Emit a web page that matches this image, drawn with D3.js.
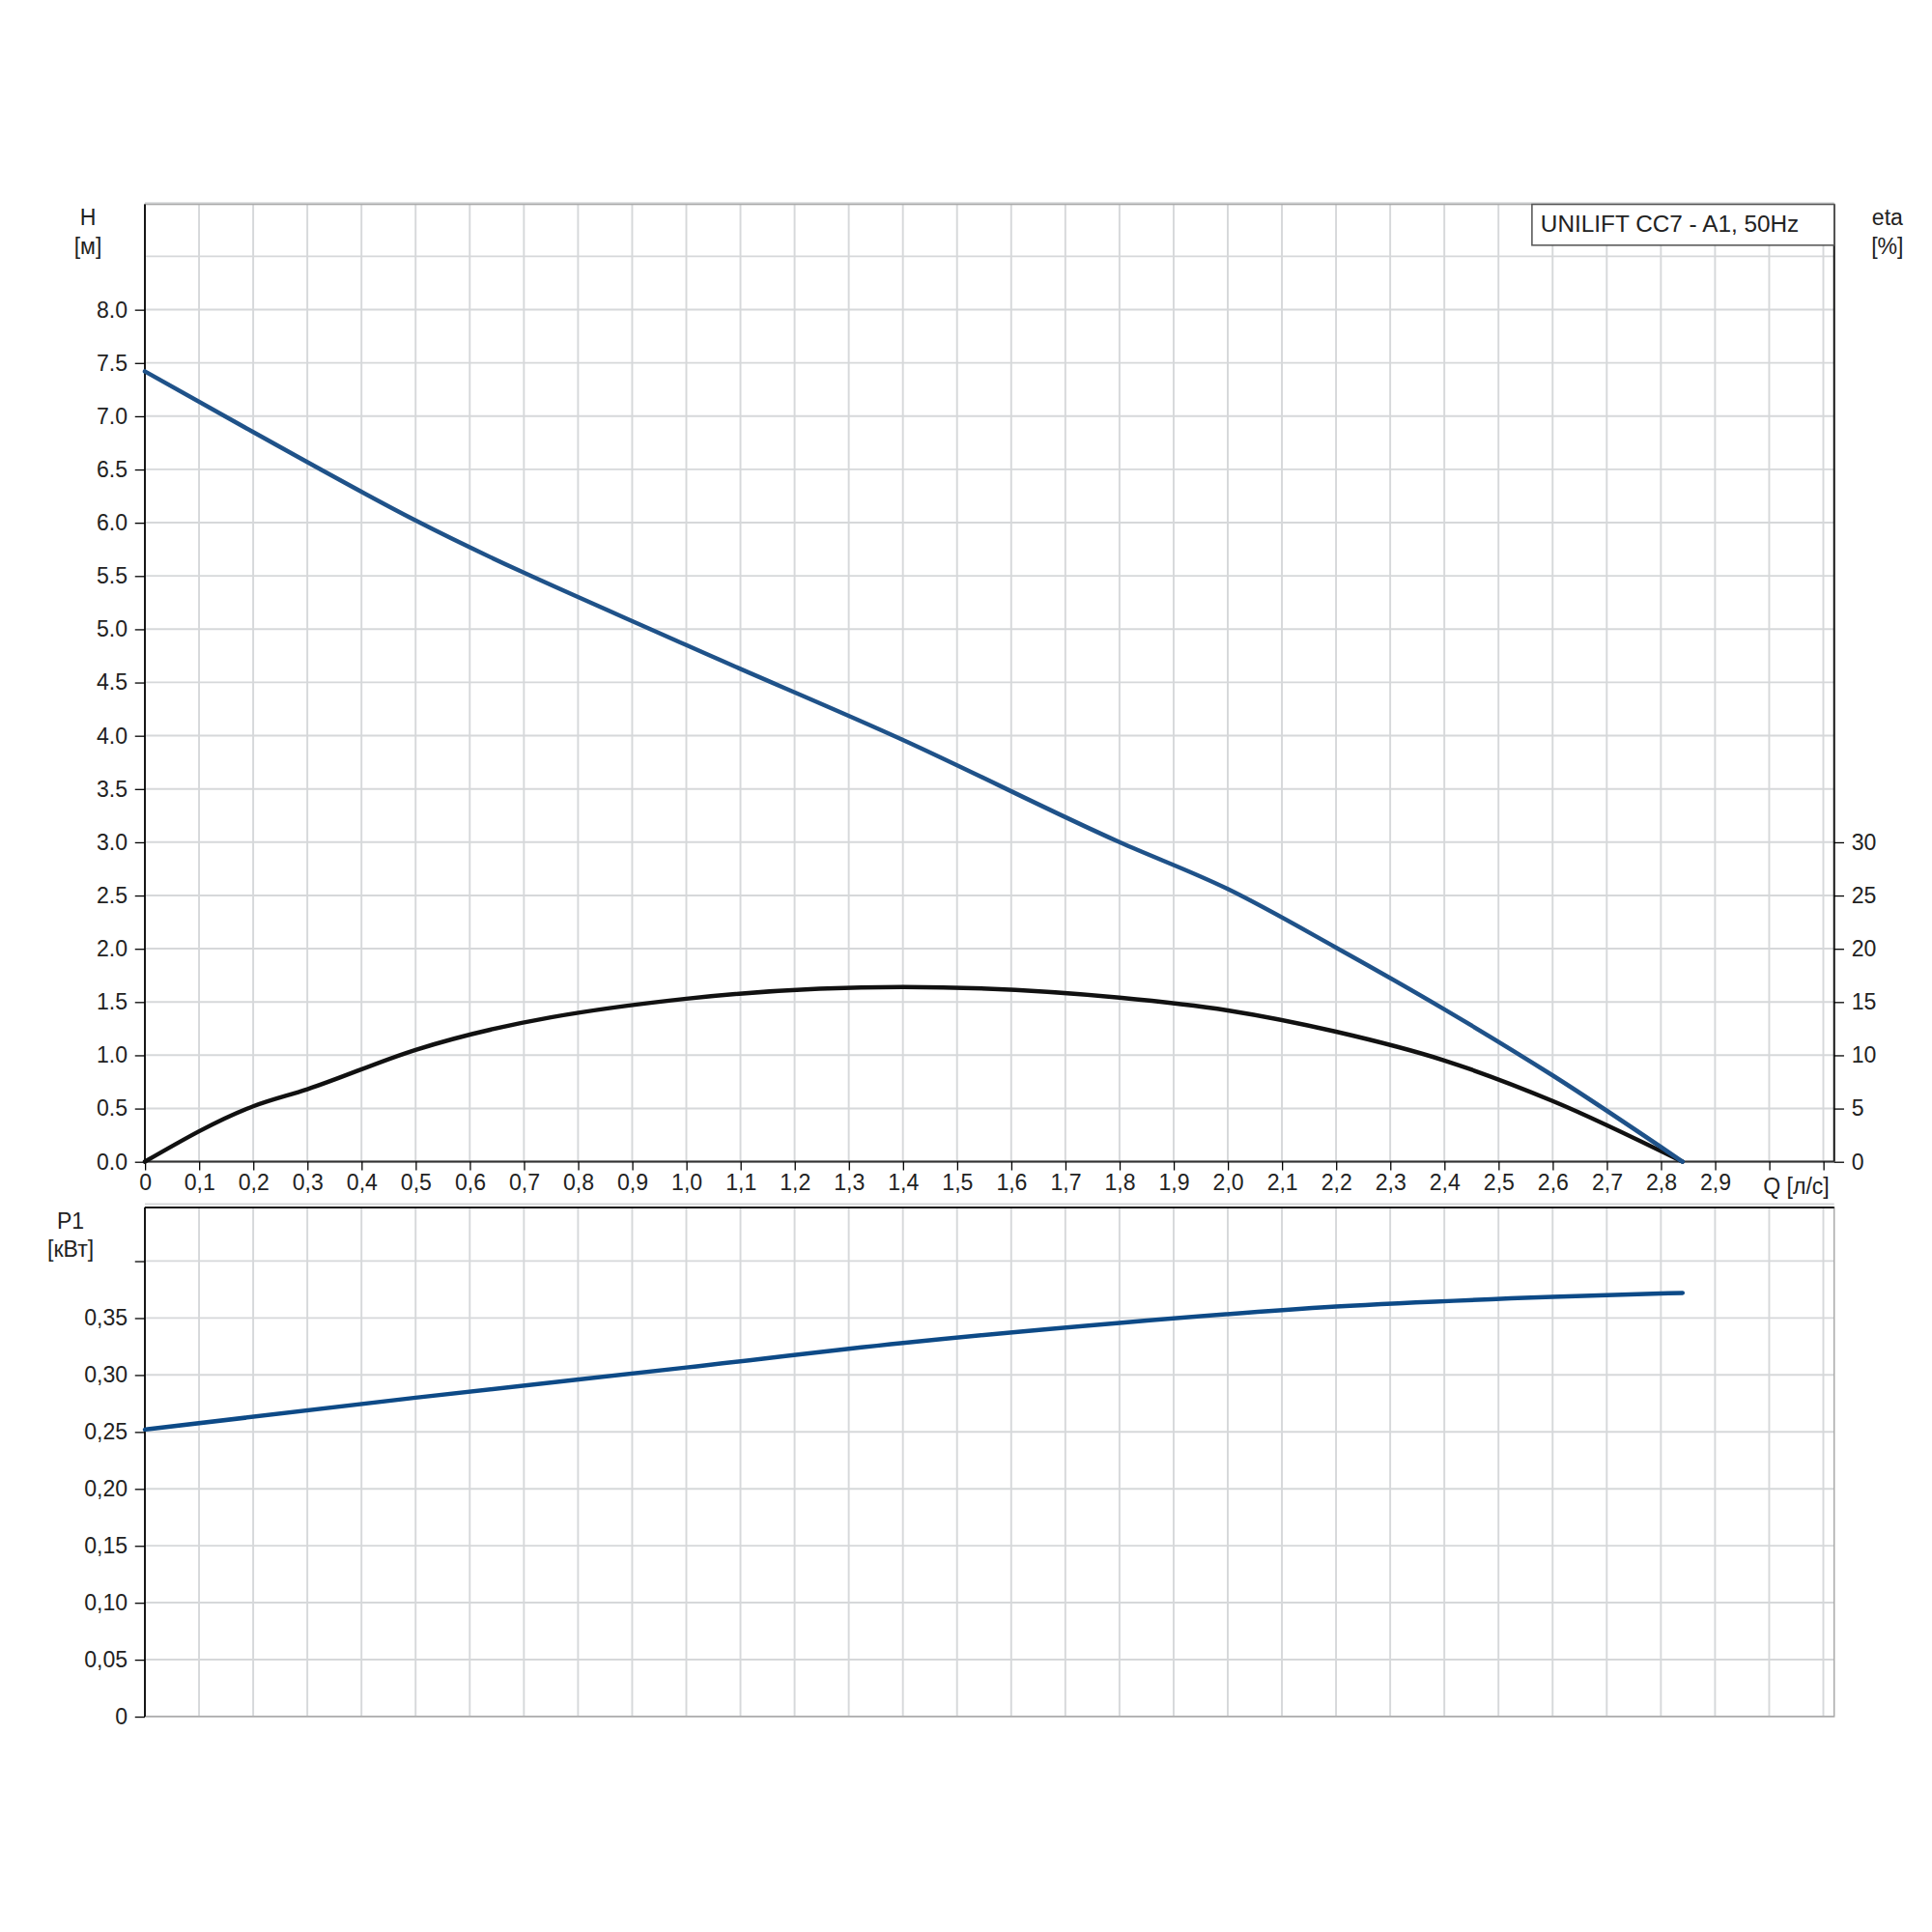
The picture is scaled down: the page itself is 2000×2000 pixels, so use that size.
<!DOCTYPE html>
<html><head><meta charset="utf-8">
<script src="https://cdn.jsdelivr.net/npm/d3@7"></script>
<style>body{margin:0;background:#fff}text{font-family:"Liberation Sans",Arial,sans-serif;fill:#222}</style>
</head><body>
<script>
// data
var qTicks = d3.range(0, 30).map(function (i) { return i / 10; });
var qGrid = d3.range(0, 32).map(function (i) { return i / 10; });
var hTicks = d3.range(0, 17).map(function (i) { return i / 2; });
var etaTicks = [0, 5, 10, 15, 20, 25, 30];
var pTicks = [0, 0.05, 0.10, 0.15, 0.20, 0.25, 0.30, 0.35];

var qH = [0, 0.2, 0.5, 1.0, 1.4, 1.8, 2.0, 2.2, 2.4, 2.6, 2.84];
var hVals = [7.42, 6.85, 6.02, 4.85, 3.96, 3.0, 2.56, 2.01, 1.43, 0.81, 0];
var qEta = [0, 0.2, 0.3, 0.5, 1.0, 1.4, 1.8, 2.0, 2.2, 2.4, 2.6, 2.84];
var etaVals = [0, 5.2, 6.8, 10.5, 15.3, 16.4, 15.4, 14.2, 12.2, 9.5, 5.7, 0];
var qP = [0, 0.5, 1.0, 1.4, 1.8, 2.2, 2.6, 2.84];
var pVals = [0.252, 0.280, 0.3065, 0.328, 0.3457, 0.360, 0.3685, 0.372];

var svg = d3.select("body").append("svg")
    .attr("width", 2000).attr("height", 2000)
    .attr("viewBox", "0 0 1560 1560");

var L = 117, R = 1481;
var x = d3.scaleLinear().domain([0, 3.12]).range([L, R]);
var yH = d3.scaleLinear().domain([0, 9]).range([938, 164]);
var yEta = d3.scaleLinear().domain([0, 90]).range([938, 164]);
var yP = d3.scaleLinear().domain([0, 0.447]).range([1386, 975]);
var grid = "#d6d8da", fs = 18;

function panel(y, top, bottom, gridY) {
    var g = svg.append("g");
    g.selectAll(".vg").data(qGrid).enter().append("line")
        .attr("x1", function (d) { return x(d); }).attr("x2", function (d) { return x(d); })
        .attr("y1", top).attr("y2", bottom).attr("stroke", grid).attr("stroke-width", 1.5);
    g.selectAll(".hg").data(gridY).enter().append("line")
        .attr("x1", L).attr("x2", R)
        .attr("y1", function (d) { return y(d); }).attr("y2", function (d) { return y(d); })
        .attr("stroke", grid).attr("stroke-width", 1.5);
    g.append("rect").attr("x", L).attr("y", top).attr("width", R - L).attr("height", bottom - top)
        .attr("fill", "none").attr("stroke", "#aaa").attr("stroke-width", 1.2);
    g.append("line").attr("x1", L).attr("x2", L).attr("y1", top).attr("y2", bottom).attr("stroke", "#111").attr("stroke-width", 1.5);
}

panel(yH, 165, 938, d3.range(0, 19).map(function (i) { return i / 2; }));
panel(yP, 975, 1386, [0, 0.05, 0.1, 0.15, 0.2, 0.25, 0.3, 0.35, 0.4, 0.45]);
svg.append("line").attr("x1", R).attr("x2", R).attr("y1", 165).attr("y2", 938).attr("stroke", "#111").attr("stroke-width", 1.5);
svg.append("line").attr("x1", L).attr("x2", R).attr("y1", 938).attr("y2", 938).attr("stroke", "#333").attr("stroke-width", 1.5);
svg.append("line").attr("x1", L).attr("x2", R).attr("y1", 975).attr("y2", 975).attr("stroke", "#111").attr("stroke-width", 1.5);

// left H axis
svg.append("g").attr("transform", "translate(" + L + ",0)")
    .call(d3.axisLeft(yH).tickValues(hTicks).tickFormat(d3.format(".1f")).tickSize(8).tickPadding(6))
    .call(function (g) { g.select(".domain").remove(); g.selectAll("text").style("font-size", fs + "px"); });
// right eta axis
svg.append("g").attr("transform", "translate(" + R + ",0)")
    .call(d3.axisRight(yEta).tickValues(etaTicks).tickSize(8).tickPadding(6))
    .call(function (g) { g.select(".domain").remove(); g.selectAll("text").style("font-size", fs + "px"); });
// Q axis
svg.append("g").attr("transform", "translate(0,938)")
    .call(d3.axisBottom(x).tickValues(qTicks.concat([3.0, 3.1])).tickSize(7).tickPadding(3)
        .tickFormat(function (d) { return d >= 2.95 ? "" : (d === 0 ? "0" : d3.format(".1f")(d).replace(".", ",")); }))
    .call(function (g) { g.select(".domain").remove(); g.selectAll("text").style("font-size", fs + "px"); });
svg.append("text").attr("x", x(3.05)).attr("y", 964).attr("text-anchor", "middle").style("font-size", fs + "px").text("Q [л/с]");
// P1 axis
svg.append("g").attr("transform", "translate(" + L + ",0)")
    .call(d3.axisLeft(yP).tickValues(pTicks.concat([0.4])).tickSize(8).tickPadding(6)
        .tickFormat(function (d) { return d > 0.375 ? "" : (d === 0 ? "0" : d3.format(".2f")(d).replace(".", ",")); }))
    .call(function (g) { g.select(".domain").remove(); g.selectAll("text").style("font-size", fs + "px"); });

// axis titles
function title(tx, ty, lines) {
    lines.forEach(function (t, i) {
        svg.append("text").attr("x", tx).attr("y", ty + i * 23).attr("text-anchor", "middle").style("font-size", fs + "px").text(t);
    });
}
title(71, 182, ["H", "[м]"]);
title(1524, 182, ["eta", "[%]"]);
title(57, 992, ["P1", "[кВт]"]);

// legend
svg.append("rect").attr("x", 1237).attr("y", 165).attr("width", 244).attr("height", 33)
    .attr("fill", "#fff").attr("stroke", "#555").attr("stroke-width", 1.2);
svg.append("text").attr("x", 1244).attr("y", 187).style("font-size", "19px").text("UNILIFT CC7 - A1, 50Hz");

// curves
function curve(qs, vs, y, color) {
    var pts = qs.map(function (q, i) { return [q, vs[i]]; });
    svg.append("path").datum(pts)
        .attr("d", d3.line().x(function (d) { return x(d[0]); }).y(function (d) { return y(d[1]); }).curve(d3.curveMonotoneX))
        .attr("fill", "none").attr("stroke", color).attr("stroke-width", 3.5).attr("stroke-linecap", "round");
}
curve(qEta, etaVals, yEta, "#111");
curve(qH, hVals, yH, "#1f5289");
curve(qP, pVals, yP, "#0d4a87");
</script>
</body></html>
